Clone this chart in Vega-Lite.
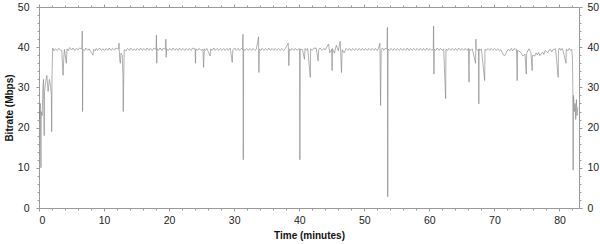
{
  "$schema": "https://vega.github.io/schema/vega-lite/v6.json",
  "width": 540,
  "height": 201,
  "autosize": "none",
  "padding": {"left": 39, "top": 7, "right": 21, "bottom": 36},
  "background": "white",
  "config": {
    "view": {"stroke": null},
    "axis": {"labelFont": "Liberation Sans", "titleFont": "Liberation Sans", "labelFontSize": 10.5, "titleFontSize": 10, "labelColor": "#222", "titleColor": "#111", "domainColor": "#999", "tickColor": "#999", "grid": false, "domainWidth": 1, "tickWidth": 1}
  },
  "data": {"values": [
    {"time":0,"bitrate":25},{"time":0.1,"bitrate":22},{"time":0.2,"bitrate":26},{"time":0.3,"bitrate":10},{"time":0.35,"bitrate":24},{"time":0.5,"bitrate":23},{"time":0.6,"bitrate":30},{"time":0.7,"bitrate":32},{"time":0.8,"bitrate":18},{"time":0.85,"bitrate":29},{"time":1.0,"bitrate":31},{"time":1.2,"bitrate":33},{"time":1.4,"bitrate":29},{"time":1.6,"bitrate":32},{"time":1.8,"bitrate":30},{"time":1.9,"bitrate":28},{"time":1.95,"bitrate":19},{"time":2.0,"bitrate":33},{"time":2.1,"bitrate":39.8},{"time":2.3,"bitrate":39.1},{"time":2.5,"bitrate":39.6},{"time":2.8,"bitrate":39.2},{"time":3.0,"bitrate":39.7},{"time":3.3,"bitrate":39.3},{"time":3.5,"bitrate":39.2},{"time":3.6,"bitrate":36},{"time":3.7,"bitrate":33},{"time":3.8,"bitrate":37},{"time":3.9,"bitrate":39.5},{"time":4.2,"bitrate":36},{"time":4.3,"bitrate":39.6},{"time":4.5,"bitrate":39.1},{"time":4.7,"bitrate":39.9},{"time":5.0,"bitrate":39.3},{"time":5.2,"bitrate":39.8},{"time":5.5,"bitrate":39.2},{"time":5.7,"bitrate":39.7},{"time":6.0,"bitrate":39.3},{"time":6.2,"bitrate":39.8},{"time":6.6,"bitrate":39.6},{"time":6.65,"bitrate":44},{"time":6.7,"bitrate":24},{"time":6.75,"bitrate":39.5},{"time":7.0,"bitrate":39.1},{"time":7.2,"bitrate":39.8},{"time":7.5,"bitrate":39.2},{"time":7.7,"bitrate":39.6},{"time":8.3,"bitrate":38},{"time":8.4,"bitrate":39.5},{"time":8.6,"bitrate":39.1},{"time":8.8,"bitrate":39.7},{"time":9.0,"bitrate":39.2},{"time":9.3,"bitrate":39.8},{"time":9.6,"bitrate":39.2},{"time":9.8,"bitrate":39.6},{"time":10.1,"bitrate":39.2},{"time":10.3,"bitrate":39.7},{"time":10.6,"bitrate":39.2},{"time":10.8,"bitrate":39.8},{"time":11.1,"bitrate":39.2},{"time":11.3,"bitrate":39.7},{"time":11.6,"bitrate":39.3},{"time":11.8,"bitrate":39.8},{"time":12.2,"bitrate":39.5},{"time":12.3,"bitrate":41},{"time":12.4,"bitrate":37},{"time":12.5,"bitrate":36},{"time":12.6,"bitrate":38.5},{"time":12.8,"bitrate":38},{"time":12.9,"bitrate":33},{"time":12.95,"bitrate":24},{"time":13.0,"bitrate":30},{"time":13.1,"bitrate":39.4},{"time":13.4,"bitrate":39.1},{"time":13.6,"bitrate":39.7},{"time":13.9,"bitrate":39.2},{"time":14.1,"bitrate":39.8},{"time":14.4,"bitrate":39.2},{"time":14.6,"bitrate":39.6},{"time":14.9,"bitrate":39.2},{"time":15.1,"bitrate":39.7},{"time":15.4,"bitrate":39.2},{"time":15.6,"bitrate":39.8},{"time":15.9,"bitrate":39.2},{"time":16.1,"bitrate":39.7},{"time":16.4,"bitrate":39.2},{"time":16.6,"bitrate":39.8},{"time":16.9,"bitrate":39.2},{"time":17.1,"bitrate":39.7},{"time":17.4,"bitrate":39.2},{"time":17.6,"bitrate":39.7},{"time":18.0,"bitrate":39.5},{"time":18.05,"bitrate":43},{"time":18.1,"bitrate":36},{"time":18.15,"bitrate":39.6},{"time":18.4,"bitrate":39.2},{"time":18.6,"bitrate":39.8},{"time":18.9,"bitrate":39.2},{"time":19.1,"bitrate":39.7},{"time":19.45,"bitrate":39.5},{"time":19.5,"bitrate":42},{"time":19.55,"bitrate":37.5},{"time":19.6,"bitrate":39.6},{"time":19.9,"bitrate":39.2},{"time":20.1,"bitrate":39.7},{"time":20.4,"bitrate":39.2},{"time":20.6,"bitrate":39.8},{"time":20.9,"bitrate":39.2},{"time":21.1,"bitrate":39.7},{"time":21.4,"bitrate":39.2},{"time":21.6,"bitrate":39.8},{"time":21.9,"bitrate":39.2},{"time":22.1,"bitrate":39.7},{"time":22.4,"bitrate":39.2},{"time":22.6,"bitrate":39.7},{"time":22.9,"bitrate":39.2},{"time":23.1,"bitrate":39.7},{"time":23.4,"bitrate":39.2},{"time":23.6,"bitrate":39.8},{"time":24.0,"bitrate":39.5},{"time":24.05,"bitrate":36},{"time":24.1,"bitrate":39.6},{"time":24.4,"bitrate":39.2},{"time":24.6,"bitrate":39.7},{"time":24.9,"bitrate":39.2},{"time":25.2,"bitrate":39.5},{"time":25.3,"bitrate":35},{"time":25.4,"bitrate":39.6},{"time":25.6,"bitrate":39.2},{"time":25.8,"bitrate":39.7},{"time":26.3,"bitrate":37.8},{"time":26.4,"bitrate":39.6},{"time":26.6,"bitrate":39.2},{"time":26.9,"bitrate":39.8},{"time":27.1,"bitrate":39.2},{"time":27.4,"bitrate":39.7},{"time":27.6,"bitrate":39.2},{"time":27.9,"bitrate":39.7},{"time":28.1,"bitrate":39.2},{"time":28.4,"bitrate":39.7},{"time":28.6,"bitrate":39.2},{"time":28.9,"bitrate":39.7},{"time":29.1,"bitrate":39.2},{"time":29.4,"bitrate":39.8},{"time":29.7,"bitrate":36.2},{"time":29.8,"bitrate":39.4},{"time":30.1,"bitrate":39.8},{"time":30.3,"bitrate":39.2},{"time":30.6,"bitrate":39.7},{"time":30.8,"bitrate":39.2},{"time":31.1,"bitrate":39.7},{"time":31.3,"bitrate":39.4},{"time":31.35,"bitrate":43.2},{"time":31.4,"bitrate":12},{"time":31.45,"bitrate":39.5},{"time":31.7,"bitrate":39.2},{"time":31.9,"bitrate":39.7},{"time":32.2,"bitrate":39.2},{"time":32.4,"bitrate":39.7},{"time":32.7,"bitrate":39.2},{"time":32.9,"bitrate":39.7},{"time":33.2,"bitrate":39.2},{"time":33.4,"bitrate":39.5},{"time":33.75,"bitrate":42.6},{"time":33.8,"bitrate":33.7},{"time":33.85,"bitrate":39.5},{"time":34.1,"bitrate":39.2},{"time":34.3,"bitrate":39.7},{"time":34.6,"bitrate":39.2},{"time":34.8,"bitrate":39.7},{"time":35.1,"bitrate":39.2},{"time":35.3,"bitrate":39.8},{"time":35.6,"bitrate":39.2},{"time":35.8,"bitrate":39.7},{"time":36.1,"bitrate":39.2},{"time":36.3,"bitrate":39.7},{"time":36.6,"bitrate":39.2},{"time":36.8,"bitrate":39.7},{"time":37.1,"bitrate":39.2},{"time":37.3,"bitrate":39.7},{"time":37.6,"bitrate":39.2},{"time":37.8,"bitrate":39.5},{"time":38.3,"bitrate":41},{"time":38.4,"bitrate":35.4},{"time":38.5,"bitrate":39.6},{"time":38.7,"bitrate":39.2},{"time":38.9,"bitrate":39.7},{"time":39.2,"bitrate":39.2},{"time":39.4,"bitrate":39.7},{"time":39.7,"bitrate":39.2},{"time":39.9,"bitrate":39.6},{"time":40.05,"bitrate":39.6},{"time":40.1,"bitrate":12},{"time":40.15,"bitrate":39.5},{"time":40.5,"bitrate":39.4},{"time":40.8,"bitrate":37},{"time":40.9,"bitrate":39.7},{"time":41.1,"bitrate":39.2},{"time":41.3,"bitrate":39.7},{"time":41.7,"bitrate":32.5},{"time":41.75,"bitrate":39.6},{"time":42.0,"bitrate":39.2},{"time":42.2,"bitrate":39.7},{"time":42.6,"bitrate":39.8},{"time":42.9,"bitrate":36.6},{"time":43.0,"bitrate":39.4},{"time":43.2,"bitrate":39.8},{"time":43.5,"bitrate":39.2},{"time":43.8,"bitrate":39.7},{"time":44.0,"bitrate":39.3},{"time":44.5,"bitrate":40.8},{"time":44.7,"bitrate":38.6},{"time":45.0,"bitrate":39.5},{"time":45.05,"bitrate":34.2},{"time":45.1,"bitrate":39.7},{"time":45.4,"bitrate":38.5},{"time":45.7,"bitrate":40.5},{"time":46.0,"bitrate":39.1},{"time":46.3,"bitrate":41.5},{"time":46.5,"bitrate":33.7},{"time":46.6,"bitrate":39.4},{"time":46.9,"bitrate":38.6},{"time":47.2,"bitrate":39.7},{"time":47.5,"bitrate":39.2},{"time":47.7,"bitrate":39.7},{"time":48.0,"bitrate":39.2},{"time":48.2,"bitrate":39.7},{"time":48.5,"bitrate":39.2},{"time":48.7,"bitrate":39.7},{"time":49.0,"bitrate":39.2},{"time":49.2,"bitrate":39.7},{"time":49.5,"bitrate":39.2},{"time":49.7,"bitrate":39.7},{"time":50.0,"bitrate":39.2},{"time":50.2,"bitrate":39.7},{"time":50.5,"bitrate":39.2},{"time":50.7,"bitrate":39.7},{"time":51.0,"bitrate":39.2},{"time":51.2,"bitrate":39.7},{"time":51.5,"bitrate":39.2},{"time":51.7,"bitrate":39.7},{"time":52.0,"bitrate":39.2},{"time":52.2,"bitrate":39.8},{"time":52.4,"bitrate":41},{"time":52.5,"bitrate":25.5},{"time":52.6,"bitrate":39.4},{"time":52.8,"bitrate":39.8},{"time":53.0,"bitrate":39.2},{"time":53.2,"bitrate":39.7},{"time":53.5,"bitrate":39.6},{"time":53.55,"bitrate":44.9},{"time":53.6,"bitrate":2.8},{"time":53.65,"bitrate":39.5},{"time":53.9,"bitrate":39.2},{"time":54.1,"bitrate":39.7},{"time":54.4,"bitrate":39.2},{"time":54.6,"bitrate":39.7},{"time":54.9,"bitrate":39.2},{"time":55.1,"bitrate":39.7},{"time":55.4,"bitrate":39.2},{"time":55.6,"bitrate":39.7},{"time":55.9,"bitrate":39.2},{"time":56.1,"bitrate":39.7},{"time":56.4,"bitrate":39.2},{"time":56.6,"bitrate":39.8},{"time":56.9,"bitrate":39.2},{"time":57.1,"bitrate":39.7},{"time":57.4,"bitrate":39.2},{"time":57.6,"bitrate":39.7},{"time":57.9,"bitrate":39.2},{"time":58.1,"bitrate":39.7},{"time":58.4,"bitrate":39.2},{"time":58.6,"bitrate":39.7},{"time":58.9,"bitrate":39.2},{"time":59.1,"bitrate":39.7},{"time":59.4,"bitrate":39.2},{"time":59.6,"bitrate":39.8},{"time":59.9,"bitrate":39.2},{"time":60.1,"bitrate":39.7},{"time":60.4,"bitrate":39.2},{"time":60.6,"bitrate":39.6},{"time":60.65,"bitrate":45.3},{"time":60.7,"bitrate":33.3},{"time":60.75,"bitrate":39.5},{"time":61.0,"bitrate":39.2},{"time":61.2,"bitrate":39.8},{"time":61.5,"bitrate":39.2},{"time":61.7,"bitrate":39.7},{"time":62.0,"bitrate":39.2},{"time":62.2,"bitrate":39.6},{"time":62.5,"bitrate":27.2},{"time":62.55,"bitrate":39.5},{"time":62.8,"bitrate":39.2},{"time":63.0,"bitrate":39.7},{"time":63.3,"bitrate":39.2},{"time":63.5,"bitrate":39.7},{"time":63.8,"bitrate":39.2},{"time":64.0,"bitrate":39.7},{"time":64.3,"bitrate":39.2},{"time":64.5,"bitrate":39.8},{"time":64.8,"bitrate":39.2},{"time":65.0,"bitrate":39.7},{"time":65.3,"bitrate":39.2},{"time":65.5,"bitrate":39.7},{"time":65.8,"bitrate":39.2},{"time":66.0,"bitrate":39.7},{"time":66.1,"bitrate":31.3},{"time":66.15,"bitrate":39.5},{"time":66.4,"bitrate":39.2},{"time":66.6,"bitrate":39.6},{"time":67.1,"bitrate":36},{"time":67.15,"bitrate":42},{"time":67.2,"bitrate":39.6},{"time":67.4,"bitrate":39.2},{"time":67.55,"bitrate":39.5},{"time":67.6,"bitrate":25.9},{"time":67.65,"bitrate":39.6},{"time":67.8,"bitrate":39.2},{"time":68.0,"bitrate":39.6},{"time":68.5,"bitrate":31.7},{"time":68.55,"bitrate":39.5},{"time":68.8,"bitrate":39.2},{"time":69.0,"bitrate":39.7},{"time":69.3,"bitrate":39.2},{"time":69.5,"bitrate":39.7},{"time":69.8,"bitrate":39.2},{"time":70.0,"bitrate":39.7},{"time":70.3,"bitrate":39.2},{"time":70.5,"bitrate":39.6},{"time":70.8,"bitrate":39.1},{"time":71.0,"bitrate":39.4},{"time":71.4,"bitrate":38},{"time":71.6,"bitrate":37.9},{"time":71.8,"bitrate":38.6},{"time":72.1,"bitrate":39.5},{"time":72.4,"bitrate":39.1},{"time":72.6,"bitrate":39.7},{"time":72.8,"bitrate":39.1},{"time":73.0,"bitrate":39.6},{"time":73.4,"bitrate":39.5},{"time":73.5,"bitrate":31.7},{"time":73.55,"bitrate":39.2},{"time":74.0,"bitrate":38.8},{"time":74.4,"bitrate":37.8},{"time":74.7,"bitrate":38.3},{"time":74.9,"bitrate":33.3},{"time":74.95,"bitrate":38.5},{"time":75.3,"bitrate":39.6},{"time":75.6,"bitrate":38.7},{"time":75.8,"bitrate":34.2},{"time":75.85,"bitrate":38.0},{"time":76.2,"bitrate":37.8},{"time":76.4,"bitrate":38.6},{"time":76.6,"bitrate":38.1},{"time":76.8,"bitrate":38.7},{"time":77.0,"bitrate":37.9},{"time":77.4,"bitrate":38.8},{"time":77.6,"bitrate":38.2},{"time":77.8,"bitrate":39.2},{"time":78.2,"bitrate":38.6},{"time":78.4,"bitrate":39.3},{"time":78.6,"bitrate":39.5},{"time":78.8,"bitrate":38.8},{"time":79.0,"bitrate":39.4},{"time":79.4,"bitrate":39.6},{"time":79.8,"bitrate":32.5},{"time":79.85,"bitrate":39.3},{"time":80.0,"bitrate":39.8},{"time":80.2,"bitrate":39.2},{"time":80.4,"bitrate":39.7},{"time":80.6,"bitrate":38.9},{"time":81.0,"bitrate":36},{"time":81.05,"bitrate":39.5},{"time":81.3,"bitrate":39.1},{"time":81.5,"bitrate":39.7},{"time":81.7,"bitrate":39.2},{"time":81.9,"bitrate":39.5},{"time":82.0,"bitrate":37},{"time":82.05,"bitrate":30},{"time":82.1,"bitrate":9.4},{"time":82.15,"bitrate":28},{"time":82.3,"bitrate":24},{"time":82.4,"bitrate":26},{"time":82.5,"bitrate":22},{"time":82.6,"bitrate":27},{"time":82.7,"bitrate":23},{"time":82.8,"bitrate":25}
  ]},
  "layer": [
    {
      "mark": {"type": "line", "color": "#858585", "strokeWidth": 0.65, "clip": true},
      "encoding": {
        "x": {"field": "time", "type": "quantitative", "scale": {"domain": [0, 83], "nice": false, "zero": false},
          "axis": {"orient": "bottom", "values": [0,10,20,30,40,50,60,70,80], "tickSize": 3, "labelPadding": 4, "title": "Time (minutes)", "titleFontWeight": "bold", "titlePadding": 5}},
        "y": {"field": "bitrate", "type": "quantitative", "scale": {"domain": [0, 50], "nice": false},
          "axis": {"orient": "left", "values": [0,10,20,30,40,50], "tickSize": 3, "labelPadding": 7, "title": "Bitrate (Mbps)", "titleFontWeight": "bold", "titlePadding": 3}}
      }
    },
    {
      "mark": {"type": "line", "opacity": 0},
      "encoding": {
        "x": {"field": "time", "type": "quantitative", "axis": {"orient": "bottom", "values": [2,4,6,8,12,14,16,18,22,24,26,28,32,34,36,38,42,44,46,48,52,54,56,58,62,64,66,68,72,74,76,78,82], "tickSize": 2, "labels": false, "domain": false, "title": null}},
        "y": {"field": "bitrate", "type": "quantitative", "axis": {"orient": "left", "values": [2,4,6,8,12,14,16,18,22,24,26,28,32,34,36,38,42,44,46,48], "tickSize": 2, "labels": false, "domain": false, "title": null}}
      }
    },
    {
      "mark": {"type": "line", "opacity": 0},
      "encoding": {
        "x": {"field": "time", "type": "quantitative", "axis": {"orient": "top", "values": [0,10,20,30,40,50,60,70,80], "tickSize": 3, "labels": false, "title": null}},
        "y": {"field": "bitrate", "type": "quantitative", "axis": {"orient": "right", "values": [0,10,20,30,40,50], "tickSize": 3, "labelPadding": 5, "title": null}}
      }
    },
    {
      "mark": {"type": "line", "opacity": 0},
      "encoding": {
        "x": {"field": "time", "type": "quantitative", "axis": {"orient": "top", "values": [2,4,6,8,12,14,16,18,22,24,26,28,32,34,36,38,42,44,46,48,52,54,56,58,62,64,66,68,72,74,76,78,82], "tickSize": 2, "labels": false, "domain": false, "title": null}},
        "y": {"field": "bitrate", "type": "quantitative", "axis": {"orient": "right", "values": [2,4,6,8,12,14,16,18,22,24,26,28,32,34,36,38,42,44,46,48], "tickSize": 2, "labels": false, "domain": false, "title": null}}
      }
    }
  ],
  "resolve": {"axis": {"x": "independent", "y": "independent"}}
}
